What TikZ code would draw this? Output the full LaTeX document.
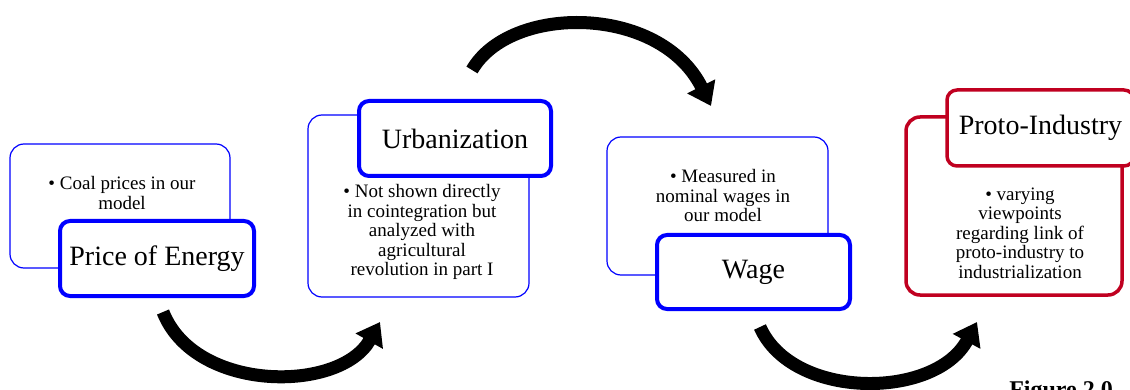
\documentclass[tikz,border=0pt]{standalone}
\usepackage{fontspec}
\setmainfont{Liberation Serif}
\usetikzlibrary{arrows.meta}
\definecolor{boxblue}{RGB}{0,0,255}
\definecolor{boxred}{RGB}{192,0,32}
\begin{document}
\begin{tikzpicture}[x=1pt,y=-1pt,
  backbox/.style={draw=boxblue, line width=1.2pt, rounded corners=14pt, fill=white, inner sep=0pt, outer sep=0pt},
  frontbox/.style={draw=boxblue, line width=4pt, rounded corners=10pt, fill=white, inner sep=0pt, outer sep=0pt,
    font=\fontsize{28}{32}\selectfont},
  redback/.style={backbox, draw=boxred, line width=3.5pt},
  redfront/.style={frontbox, draw=boxred, line width=3.5pt},
  bodytext/.style={align=center, inner sep=0pt, font=\fontsize{19}{19.5}\selectfont},
  bigarrow/.style={line width=13pt, -{Triangle[length=22pt,width=30pt]}}]
\fill[white] (0,0) rectangle (1130,390);
\useasboundingbox (0,0) rectangle (1130,390);

% group 1
\node[backbox, minimum width=220pt, minimum height=124pt] (b1) at (120,206) {};
\node[bodytext] (t1) at (122,193) {\textbullet\ Coal prices in our\\model};
\node[frontbox, minimum width=194pt, minimum height=75pt] (f1) at (157,258.5) {Price of Energy};

% group 2
\node[backbox, minimum width=221pt, minimum height=182pt] (b2) at (418.5,206) {};
\node[bodytext] (t2) at (422,232) {\textbullet\ Not shown directly\\in cointegration but\\analyzed with\\agricultural\\revolution in part I};
\node[frontbox, minimum width=192pt, minimum height=75pt] (f2) at (455,138.5) {Urbanization};

% group 3
\node[backbox, minimum width=221pt, minimum height=138pt] (b3) at (717.5,206) {};
\node[bodytext] (t3) at (723,196) {\textbullet\ Measured in\\nominal wages in\\our model};
\node[frontbox, minimum width=193pt, minimum height=74pt] (f3) at (753.5,272) {Wage};

% group 4
\node[redback, minimum width=216pt, minimum height=178pt] (b4) at (1014,206) {};
\node[bodytext] (t4) at (1020,233) {\textbullet\ varying\\viewpoints\\regarding link of\\proto-industry to\\industrialization};
\node[redfront, minimum width=187pt, minimum height=76pt] (f4) at (1040.5,128) {Proto-Industry};

% arrows
\coordinate (a1s) at (163,312);
\coordinate (a1e) at (380,322);
\draw[bigarrow] (a1s) .. controls (195,393) and (340,393) .. (a1e);
\coordinate (a2s) at (472,70);
\coordinate (a2e) at (711,106);
\draw[bigarrow] (a2s) .. controls (510,4) and (660,4) .. (a2e);
\coordinate (a3s) at (760,327);
\coordinate (a3e) at (977,322);
\draw[bigarrow] (a3s) .. controls (792,400) and (935,400) .. (a3e);

\node[font=\bfseries\fontsize{24}{26}\selectfont, anchor=base east, inner sep=0pt] (fig) at (1113,397) {Figure 2.0};
\end{tikzpicture}
\end{document}
